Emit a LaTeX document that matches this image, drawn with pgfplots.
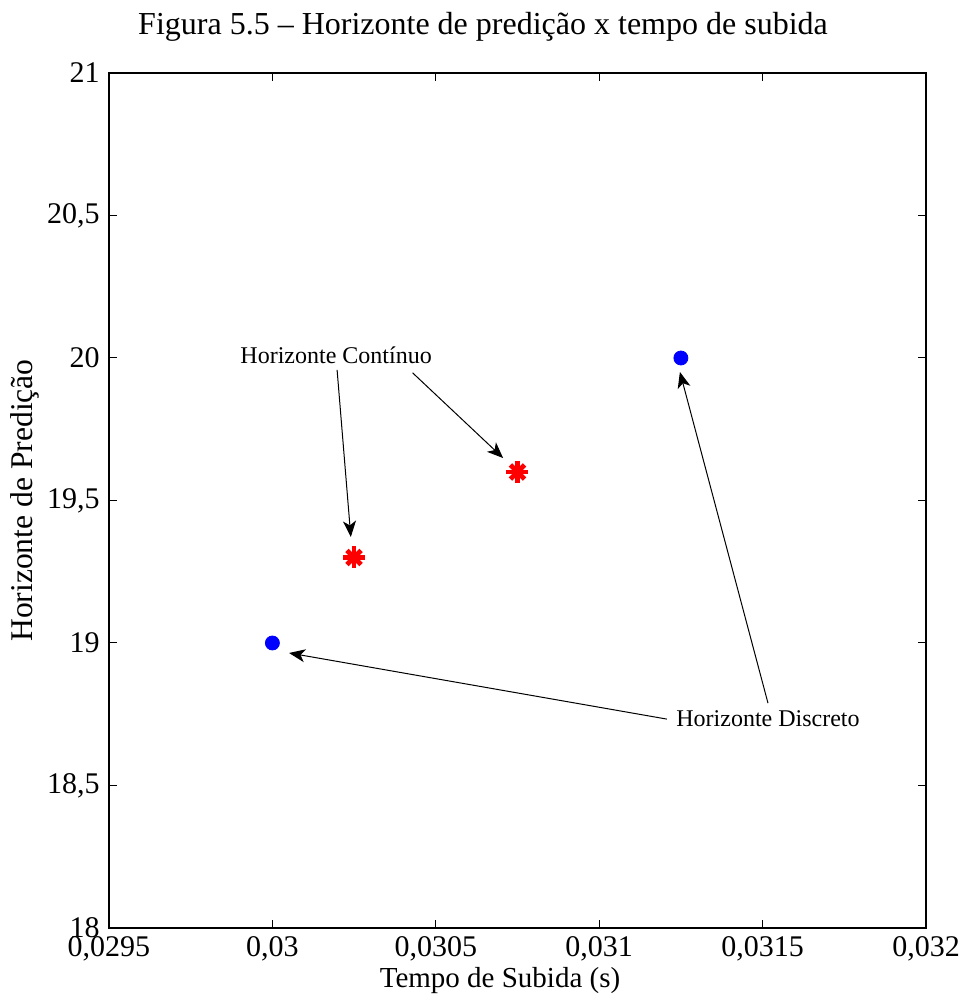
\documentclass[border=0pt]{standalone}
\usepackage{fontspec}
\setmainfont{Liberation Serif}
\usepackage{pgfplots}
\pgfplotsset{compat=1.18}
\usetikzlibrary{arrows.meta}

\begin{document}
\begin{tikzpicture}
% page frame: 1px of the reference = 0.5pt
\path[use as bounding box] (-54.5pt,-34pt) rectangle (427pt,464pt);
\begin{axis}[
  scale only axis,
  width=408.5pt, height=427.5pt,
  xmin=0.0295, xmax=0.032, ymin=18, ymax=21,
  xtick={0.0295,0.03,0.0305,0.031,0.0315,0.032},
  xticklabels={{0,0295},{0,03},{0,0305},{0,031},{0,0315},{0,032}},
  ytick={18,18.5,19,19.5,20,20.5,21},
  yticklabels={{18},{18,5},{19},{19,5},{20},{20,5},{21}},
  scaled x ticks=false,
  tick align=inside, tick pos=both,
  major tick length=4pt,
  axis line style={line width=0.6pt},
  tick style={line width=0.5pt, black},
  tick label style={font=\fontsize{15}{18}\selectfont},
  xticklabel style={inner sep=0pt, yshift=-4pt},
  yticklabel style={inner sep=0pt, xshift=-4.5pt},
  xlabel={Tempo de Subida (s)},
  xlabel style={at={(axis description cs:0.4786,-0.062)}, anchor=center,
    font=\fontsize{14.5}{17}\selectfont},
  ylabel={Horizonte de Predição},
  ylabel style={at={(axis description cs:-0.1028,0.5)}, anchor=center,
    font=\fontsize{15.8}{18}\selectfont},
  clip=false,
]
% horizonte discreto
\addplot[only marks, mark=*, draw=blue, fill=blue, mark size=3.5pt]
  coordinates {(0.03,19) (0.03125,20)};
% horizonte continuo
\addplot[only marks, mark=+, red, line width=2.4pt, mark size=5.5pt]
  coordinates {(0.03025,19.3) (0.03075,19.6)};
\addplot[only marks, mark=x, red, line width=2.4pt, mark size=5pt]
  coordinates {(0.03025,19.3) (0.03075,19.6)};

% title
\node[font=\fontsize{16}{19}\selectfont] at (axis description cs:0.4578,1.0538)
  {Figura 5.5 – Horizonte de predição x tempo de subida};

% annotations
\tikzset{ann/.style={-{Stealth[length=8pt,width=6.5pt,inset=2.2pt]}, line width=0.5pt, black}}
\node[font=\fontsize{12}{14}\selectfont] at (axis cs:0.030195,20.01) {Horizonte Contínuo};
\draw[ann] (axis cs:0.030198,19.958) -- (axis cs:0.030240,19.372);
\draw[ann] (axis cs:0.030429,19.948) -- (axis cs:0.030706,19.649);
\node[font=\fontsize{12}{14}\selectfont] at (axis cs:0.0315165,18.733) {Horizonte Discreto};
\draw[ann] (axis cs:0.0315165,18.789) -- (axis cs:0.031247,19.951);
\draw[ann] (axis cs:0.031207,18.733) -- (axis cs:0.030051,18.965);
\end{axis}
\end{tikzpicture}
\end{document}
